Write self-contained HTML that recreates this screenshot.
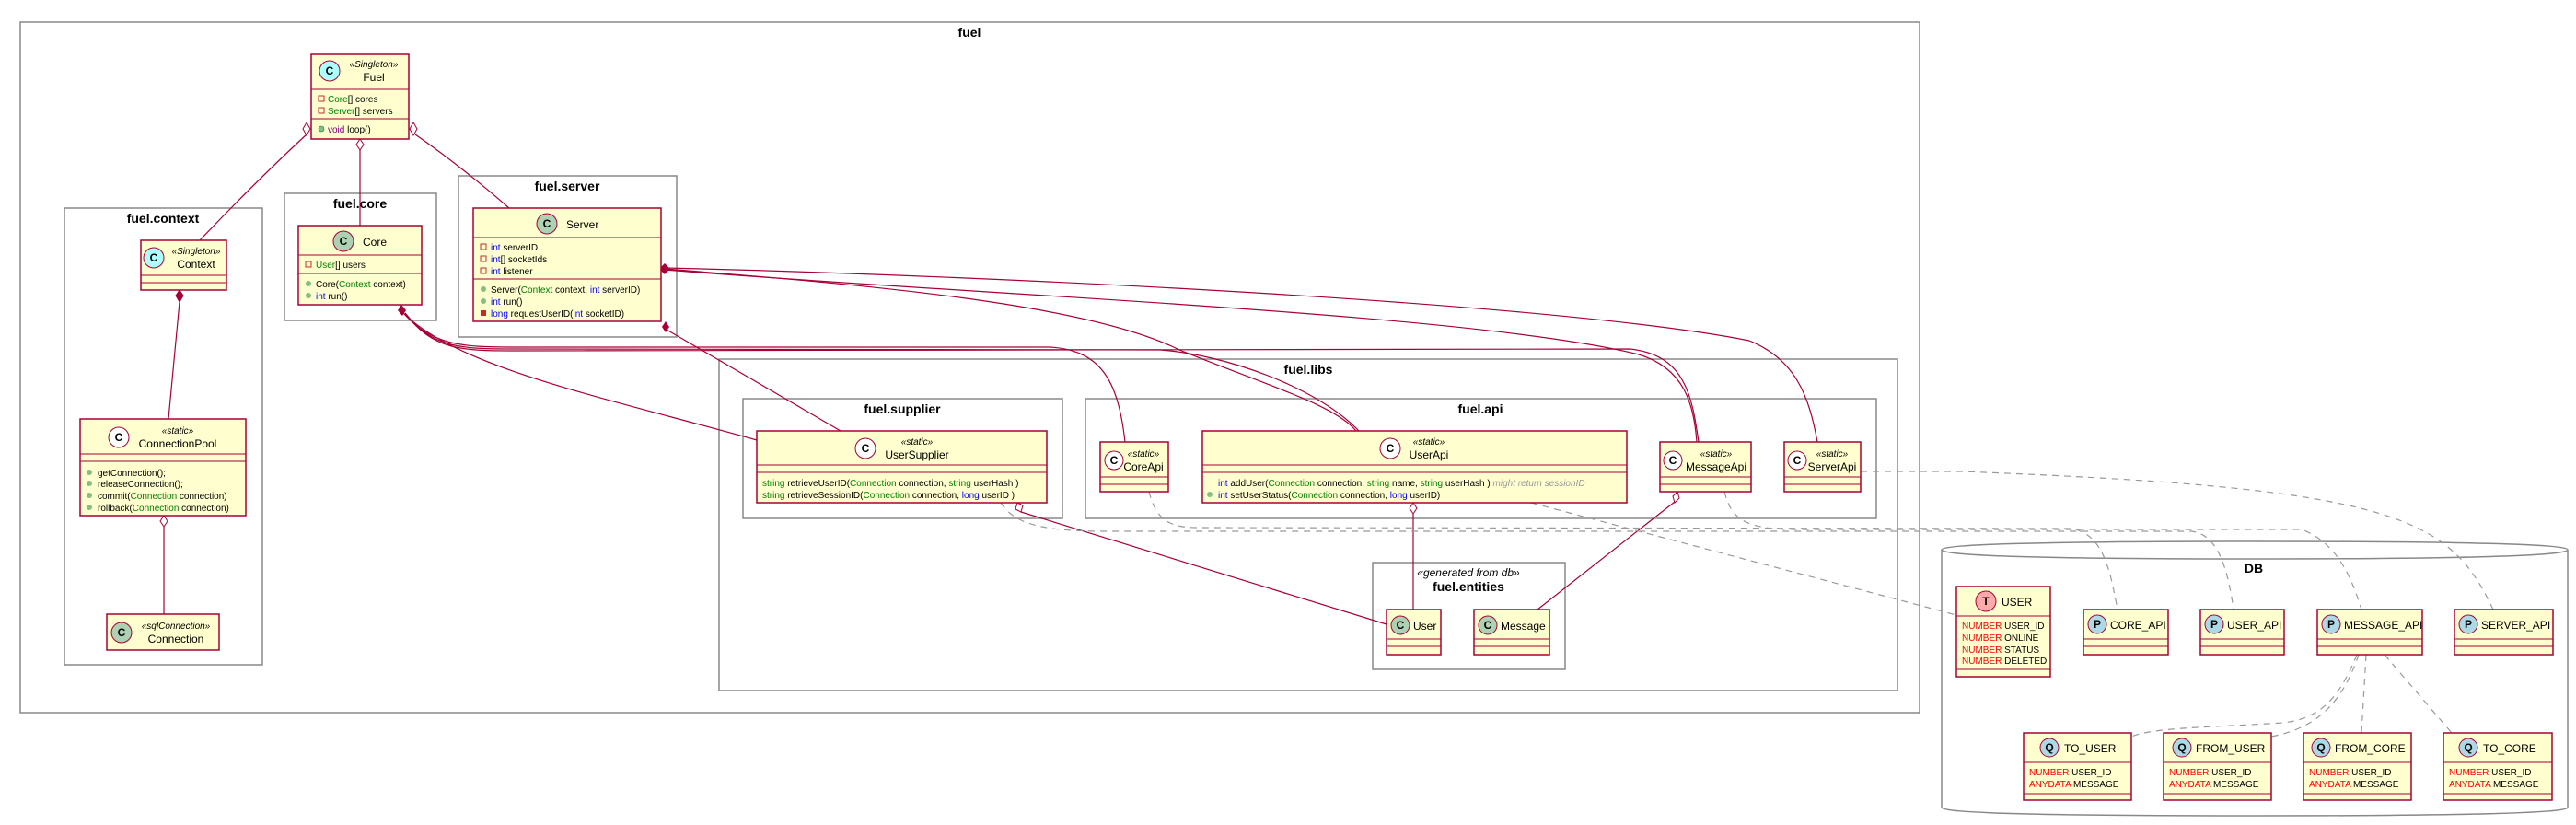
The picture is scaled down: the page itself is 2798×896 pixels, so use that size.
<!DOCTYPE html>
<html><head><meta charset="utf-8"><style>
html,body{margin:0;padding:0;background:#fff;}
svg{display:block;font-family:"Liberation Sans",sans-serif;}
.pk{fill:none;stroke:#888;stroke-width:1.5}
.bx{fill:#FEFECE;stroke:#A80036;stroke-width:1.5}
.ln{fill:none;stroke:#A80036;stroke-width:1.2}
.ds{fill:none;stroke:#999;stroke-width:1.2;stroke-dasharray:7,6}
.pt{font-weight:bold;font-size:14px;text-anchor:middle}
.nm{font-size:12px}
.st{font-size:10px;font-style:italic}
.m{font-size:10px}
.g{fill:#008000}.b{fill:#0000ff}.r{fill:#ff0000}.p{fill:#800080}
.ic{stroke:#A80036;stroke-width:1}
.il{font-size:12px;font-weight:bold;text-anchor:middle}
</style></head><body>
<svg width="2798" height="896" viewBox="0 0 2798 896" xmlns="http://www.w3.org/2000/svg">
<!-- packages -->
<rect class="pk" x="22" y="24" width="2063" height="750"/>
<text class="pt" x="1053" y="40">fuel</text>
<rect class="pk" x="70" y="226" width="215" height="496"/>
<text class="pt" x="177" y="242">fuel.context</text>
<rect class="pk" x="309" y="210" width="165" height="138"/>
<text class="pt" x="391" y="226">fuel.core</text>
<rect class="pk" x="498" y="191" width="237" height="175"/>
<text class="pt" x="616" y="207">fuel.server</text>
<rect class="pk" x="781" y="390" width="1280" height="360"/>
<text class="pt" x="1421" y="406">fuel.libs</text>
<rect class="pk" x="807" y="433" width="347" height="130"/>
<text class="pt" x="980" y="449">fuel.supplier</text>
<rect class="pk" x="1179" y="433" width="859" height="130"/>
<text class="pt" x="1608" y="449">fuel.api</text>
<rect class="pk" x="1491" y="611" width="209" height="116"/>
<text class="st" x="1595" y="626" text-anchor="middle" style="font-size:12px">«generated from db»</text>
<text class="pt" x="1595" y="642">fuel.entities</text>
<!-- DB cylinder -->
<path d="M2109 597 Q2109 588 2449 588 Q2789 588 2789 597 L2789 877 Q2789 886 2449 886 Q2109 886 2109 877 Z" fill="#fff" stroke="#888" stroke-width="1.5"/>
<path d="M2109 597 Q2109 607 2449 607 Q2789 607 2789 597" fill="none" stroke="#888" stroke-width="1.5"/>
<text class="pt" x="2448" y="622">DB</text>

<!-- connectors solid -->
<path class="ln" d="M333 146 Q280 195 217 261"/>
<polygon points="333,133 337,140 333,147 329,140" fill="#fff" stroke="#A80036"/>
<path class="ln" d="M391 163 L391 245"/>
<polygon points="391,151 395,157 391,163 387,157" fill="#fff" stroke="#A80036"/>
<path class="ln" d="M451 146 Q500 180 553 226"/>
<polygon points="449,133 453,140 449,147 445,140" fill="#fff" stroke="#A80036"/>
<path class="ln" d="M195 328 L183 455"/>
<polygon points="195,315 199,321 195,328 191,321" fill="#A80036" stroke="#A80036"/>
<path class="ln" d="M178 572 L178 667"/>
<polygon points="178,560 182,566 178,572 174,566" fill="#fff" stroke="#A80036"/>
<!-- Core links -->
<polygon points="436,331 441,337 437,343 432,337" fill="#A80036"/>
<path class="ln" d="M438 340 C500 400 650 430 822 478"/>
<path class="ln" d="M438 340 C470 375 500 377 560 377 L1140 377 C1200 380 1215 420 1222 480"/>
<path class="ln" d="M440 340 C470 378 500 379 560 379 L1260 380 C1330 385 1430 420 1476 468"/>
<path class="ln" d="M440 340 C470 380 500 381 560 381 L1770 379 C1830 385 1838 430 1845 480"/>
<!-- Server links -->
<polygon points="722,286 728,292 722,298 716,292" fill="#A80036"/>
<path class="ln" d="M722 292 C950 310 1180 330 1281 380 C1380 420 1450 440 1473 468"/>
<path class="ln" d="M722 293 C1050 320 1600 340 1780 385 C1830 400 1840 440 1843 480"/>
<path class="ln" d="M722 291 C1100 300 1700 330 1900 370 C1950 390 1965 430 1974 480"/>
<polygon points="723,349 727,355 723,361 719,355" fill="#A80036"/>
<path class="ln" d="M724 358 L913 468"/>
<!-- aggregations to entities -->
<path class="ln" d="M1109 556 L1506 678"/>
<polygon points="1105,546 1111,549 1109,556 1103,553" fill="#fff" stroke="#A80036"/>
<path class="ln" d="M1535 558 L1535 662"/>
<polygon points="1535,546 1539,552 1535,558 1531,552" fill="#fff" stroke="#A80036"/>
<path class="ln" d="M1819 545 L1670 662"/>
<polygon points="1822,534 1824,541 1819,546 1817,539" fill="#fff" stroke="#A80036"/>

<!-- dashed deps -->
<path class="ds" d="M1087 546 C1100 565 1120 577 1200 577 L2380 577 C2410 580 2420 620 2426 662"/>
<path class="ds" d="M1248 534 C1255 560 1265 573 1300 573 L2250 574 C2285 580 2292 620 2300 662"/>
<path class="ds" d="M1663 546 L2125 668"/>
<path class="ds" d="M1873 534 C1880 560 1890 575 1950 575 L2500 575 C2540 590 2555 630 2565 662"/>
<path class="ds" d="M2021 512 L2130 512 C2600 530 2660 560 2708 662"/>
<path class="ds" d="M2560 711 C2540 760 2520 780 2480 785 C2400 790 2340 790 2315 800"/>
<path class="ds" d="M2562 711 C2545 760 2520 790 2467 800"/>
<path class="ds" d="M2570 711 L2565 796"/>
<path class="ds" d="M2590 711 L2663 796"/>

<!-- Fuel -->
<rect class="bx" x="338" y="59" width="106" height="92"/>
<line class="ic" x1="338" y1="97" x2="444" y2="97" stroke-width="1.5"/><line class="ic" x1="338" y1="129" x2="444" y2="129" stroke-width="1.5"/>
<circle class="ic" cx="358" cy="77" r="11" fill="#ADFFFF"/><text class="il" x="358" y="81">C</text>
<text class="st" x="406" y="73" text-anchor="middle">«Singleton»</text>
<text class="nm" x="406" y="88" text-anchor="middle">Fuel</text>
<rect x="346" y="104" width="6" height="6" fill="none" stroke="#C82930"/><text class="m" x="356" y="111"><tspan class="g">Core</tspan>[] cores</text>
<rect x="346" y="117" width="6" height="6" fill="none" stroke="#C82930"/><text class="m" x="356" y="124"><tspan class="g">Server</tspan>[] servers</text>
<circle cx="349" cy="140" r="3" fill="#84BE84" stroke="#038048" stroke-width=".6"/><text class="m" x="356" y="144"><tspan class="p">void</tspan> loop()</text>

<!-- Context -->
<rect class="bx" x="153" y="261" width="93" height="54"/>
<line class="ic" x1="153" y1="299" x2="246" y2="299" stroke-width="1.5"/><line class="ic" x1="153" y1="307" x2="246" y2="307" stroke-width="1.5"/>
<circle class="ic" cx="167" cy="280" r="11" fill="#ADFFFF"/><text class="il" x="167" y="284">C</text>
<text class="st" x="213" y="276" text-anchor="middle">«Singleton»</text>
<text class="nm" x="213" y="291" text-anchor="middle">Context</text>

<!-- ConnectionPool -->
<rect class="bx" x="87" y="455" width="180" height="105"/>
<line class="ic" x1="87" y1="493" x2="267" y2="493" stroke-width="1.5"/><line class="ic" x1="87" y1="501" x2="267" y2="501" stroke-width="1.5"/>
<circle class="ic" cx="129" cy="475" r="11" fill="#fff"/><text class="il" x="129" y="479">C</text>
<text class="st" x="193" y="471" text-anchor="middle">«static»</text>
<text class="nm" x="193" y="486" text-anchor="middle">ConnectionPool</text>
<g class="m">
<circle cx="97" cy="513" r="3" fill="#84BE84"/><text x="106" y="517">getConnection();</text>
<circle cx="97" cy="525" r="3" fill="#84BE84"/><text x="106" y="529">releaseConnection();</text>
<circle cx="97" cy="538" r="3" fill="#84BE84"/><text x="106" y="542">commit(<tspan class="g">Connection</tspan> connection)</text>
<circle cx="97" cy="551" r="3" fill="#84BE84"/><text x="106" y="555">rollback(<tspan class="g">Connection</tspan> connection)</text>
</g>

<!-- Connection -->
<rect class="bx" x="116" y="667" width="122" height="39"/>
<circle class="ic" cx="132" cy="687" r="11" fill="#ADD1B2"/><text class="il" x="132" y="691">C</text>
<text class="st" x="191" y="683" text-anchor="middle">«sqlConnection»</text>
<text class="nm" x="191" y="698" text-anchor="middle">Connection</text>

<!-- Core -->
<rect class="bx" x="324" y="245" width="134" height="86"/>
<line class="ic" x1="324" y1="277" x2="458" y2="277" stroke-width="1.5"/><line class="ic" x1="324" y1="297" x2="458" y2="297" stroke-width="1.5"/>
<circle class="ic" cx="373" cy="262" r="11" fill="#ADD1B2"/><text class="il" x="373" y="266">C</text>
<text class="nm" x="394" y="267">Core</text>
<rect x="332" y="284" width="6" height="6" fill="none" stroke="#C82930"/><text class="m" x="343" y="291"><tspan class="g">User</tspan>[] users</text>
<circle cx="335" cy="308" r="3" fill="#84BE84"/><text class="m" x="343" y="312">Core(<tspan class="g">Context</tspan> context)</text>
<circle cx="335" cy="321" r="3" fill="#84BE84"/><text class="m" x="343" y="325"><tspan class="b">int</tspan> run()</text>

<!-- Server -->
<rect class="bx" x="514" y="226" width="204" height="123"/>
<line class="ic" x1="514" y1="258" x2="718" y2="258" stroke-width="1.5"/><line class="ic" x1="514" y1="303" x2="718" y2="303" stroke-width="1.5"/>
<circle class="ic" cx="594" cy="243" r="11" fill="#ADD1B2"/><text class="il" x="594" y="247">C</text>
<text class="nm" x="615" y="248">Server</text>
<g class="m">
<rect x="522" y="265" width="6" height="6" fill="none" stroke="#C82930"/><text x="533" y="272"><tspan class="b">int</tspan> serverID</text>
<rect x="522" y="278" width="6" height="6" fill="none" stroke="#C82930"/><text x="533" y="285"><tspan class="b">int</tspan>[] socketIds</text>
<rect x="522" y="291" width="6" height="6" fill="none" stroke="#C82930"/><text x="533" y="298"><tspan class="b">int</tspan> listener</text>
<circle cx="525" cy="314" r="3" fill="#84BE84"/><text x="533" y="318">Server(<tspan class="g">Context</tspan> context, <tspan class="b">int</tspan> serverID)</text>
<circle cx="525" cy="327" r="3" fill="#84BE84"/><text x="533" y="331"><tspan class="b">int</tspan> run()</text>
<rect x="522" y="337" width="6" height="6" fill="#C82930"/><text x="533" y="344"><tspan class="b">long</tspan> requestUserID(<tspan class="b">int</tspan> socketID)</text>
</g>

<!-- UserSupplier -->
<rect class="bx" x="822" y="468" width="315" height="78"/>
<line class="ic" x1="822" y1="505" x2="1137" y2="505" stroke-width="1.5"/><line class="ic" x1="822" y1="513" x2="1137" y2="513" stroke-width="1.5"/>
<circle class="ic" cx="940" cy="487" r="11" fill="#fff"/><text class="il" x="940" y="491">C</text>
<text class="st" x="996" y="483" text-anchor="middle">«static»</text>
<text class="nm" x="996" y="498" text-anchor="middle">UserSupplier</text>
<text class="m" x="828" y="528"><tspan class="g">string</tspan> retrieveUserID(<tspan class="g">Connection</tspan> connection, <tspan class="g">string</tspan> userHash )</text>
<text class="m" x="828" y="541"><tspan class="g">string</tspan> retrieveSessionID(<tspan class="g">Connection</tspan> connection, <tspan class="b">long</tspan> userID )</text>

<!-- CoreApi -->
<rect class="bx" x="1195" y="480" width="74" height="54"/>
<line class="ic" x1="1195" y1="518" x2="1269" y2="518" stroke-width="1.5"/><line class="ic" x1="1195" y1="526" x2="1269" y2="526" stroke-width="1.5"/>
<circle class="ic" cx="1210" cy="500" r="10" fill="#fff"/><text class="il" x="1210" y="504">C</text>
<text class="st" x="1242" y="496" text-anchor="middle">«static»</text>
<text class="nm" x="1242" y="511" text-anchor="middle">CoreApi</text>

<!-- UserApi -->
<rect class="bx" x="1306" y="468" width="461" height="78"/>
<line class="ic" x1="1306" y1="505" x2="1767" y2="505" stroke-width="1.5"/><line class="ic" x1="1306" y1="513" x2="1767" y2="513" stroke-width="1.5"/>
<circle class="ic" cx="1510" cy="487" r="11" fill="#fff"/><text class="il" x="1510" y="491">C</text>
<text class="st" x="1552" y="483" text-anchor="middle">«static»</text>
<text class="nm" x="1552" y="498" text-anchor="middle">UserApi</text>
<text class="m" x="1323" y="528"><tspan class="b">int</tspan> addUser(<tspan class="g">Connection</tspan> connection, <tspan class="g">string</tspan> name, <tspan class="g">string</tspan> userHash ) <tspan style="fill:#999;font-style:italic">might return sessionID</tspan></text>
<circle cx="1314" cy="537" r="3" fill="#84BE84"/><text class="m" x="1323" y="541"><tspan class="b">int</tspan> setUserStatus(<tspan class="g">Connection</tspan> connection, <tspan class="b">long</tspan> userID)</text>

<!-- MessageApi -->
<rect class="bx" x="1803" y="480" width="99" height="54"/>
<line class="ic" x1="1803" y1="518" x2="1902" y2="518" stroke-width="1.5"/><line class="ic" x1="1803" y1="526" x2="1902" y2="526" stroke-width="1.5"/>
<circle class="ic" cx="1817" cy="500" r="10" fill="#fff"/><text class="il" x="1817" y="504">C</text>
<text class="st" x="1864" y="496" text-anchor="middle">«static»</text>
<text class="nm" x="1864" y="511" text-anchor="middle">MessageApi</text>

<!-- ServerApi -->
<rect class="bx" x="1938" y="480" width="83" height="54"/>
<line class="ic" x1="1938" y1="518" x2="2021" y2="518" stroke-width="1.5"/><line class="ic" x1="1938" y1="526" x2="2021" y2="526" stroke-width="1.5"/>
<circle class="ic" cx="1952" cy="500" r="10" fill="#fff"/><text class="il" x="1952" y="504">C</text>
<text class="st" x="1990" y="496" text-anchor="middle">«static»</text>
<text class="nm" x="1990" y="511" text-anchor="middle">ServerApi</text>

<!-- User / Message -->
<rect class="bx" x="1506" y="662" width="59" height="49"/>
<line class="ic" x1="1506" y1="694" x2="1565" y2="694" stroke-width="1.5"/><line class="ic" x1="1506" y1="702" x2="1565" y2="702" stroke-width="1.5"/>
<circle class="ic" cx="1521" cy="679" r="10" fill="#ADD1B2"/><text class="il" x="1521" y="683">C</text>
<text class="nm" x="1535" y="684">User</text>
<rect class="bx" x="1601" y="662" width="82" height="49"/>
<line class="ic" x1="1601" y1="694" x2="1683" y2="694" stroke-width="1.5"/><line class="ic" x1="1601" y1="702" x2="1683" y2="702" stroke-width="1.5"/>
<circle class="ic" cx="1616" cy="679" r="10" fill="#ADD1B2"/><text class="il" x="1616" y="683">C</text>
<text class="nm" x="1630" y="684">Message</text>

<!-- DB: USER table -->
<rect class="bx" x="2125" y="637" width="102" height="98"/>
<line class="ic" x1="2125" y1="669" x2="2227" y2="669" stroke-width="1.5"/><line class="ic" x1="2125" y1="727" x2="2227" y2="727" stroke-width="1.5"/>
<circle class="ic" cx="2157" cy="653" r="11" fill="#FFAAAA"/><text class="il" x="2157" y="657">T</text>
<text class="nm" x="2174" y="658">USER</text>
<g class="m"><text x="2131" y="683"><tspan class="r">NUMBER</tspan> USER_ID</text>
<text x="2131" y="696"><tspan class="r">NUMBER</tspan> ONLINE</text>
<text x="2131" y="709"><tspan class="r">NUMBER</tspan> STATUS</text>
<text x="2131" y="721"><tspan class="r">NUMBER</tspan> DELETED</text></g>

<!-- P boxes -->
<g>
<rect class="bx" x="2263" y="662" width="92" height="49"/><line class="ic" x1="2263" y1="694" x2="2355" y2="694" stroke-width="1.5"/><line class="ic" x1="2263" y1="702" x2="2355" y2="702" stroke-width="1.5"/>
<circle class="ic" cx="2278" cy="678" r="10" fill="#ADD8E6"/><text class="il" x="2278" y="682">P</text><text class="nm" x="2292" y="683">CORE_API</text>
<rect class="bx" x="2390" y="662" width="91" height="49"/><line class="ic" x1="2390" y1="694" x2="2481" y2="694" stroke-width="1.5"/><line class="ic" x1="2390" y1="702" x2="2481" y2="702" stroke-width="1.5"/>
<circle class="ic" cx="2405" cy="678" r="10" fill="#ADD8E6"/><text class="il" x="2405" y="682">P</text><text class="nm" x="2419" y="683">USER_API</text>
<rect class="bx" x="2517" y="662" width="114" height="49"/><line class="ic" x1="2517" y1="694" x2="2631" y2="694" stroke-width="1.5"/><line class="ic" x1="2517" y1="702" x2="2631" y2="702" stroke-width="1.5"/>
<circle class="ic" cx="2532" cy="678" r="10" fill="#ADD8E6"/><text class="il" x="2532" y="682">P</text><text class="nm" x="2546" y="683">MESSAGE_API</text>
<rect class="bx" x="2666" y="662" width="107" height="49"/><line class="ic" x1="2666" y1="694" x2="2773" y2="694" stroke-width="1.5"/><line class="ic" x1="2666" y1="702" x2="2773" y2="702" stroke-width="1.5"/>
<circle class="ic" cx="2681" cy="678" r="10" fill="#ADD8E6"/><text class="il" x="2681" y="682">P</text><text class="nm" x="2695" y="683">SERVER_API</text>
</g>

<!-- Q boxes -->
<g>
<rect class="bx" x="2198" y="796" width="117" height="73"/><line class="ic" x1="2198" y1="828" x2="2315" y2="828" stroke-width="1.5"/><line class="ic" x1="2198" y1="862" x2="2315" y2="862" stroke-width="1.5"/>
<circle class="ic" cx="2226" cy="812" r="10" fill="#ADD8E6"/><text class="il" x="2226" y="816">Q</text><text class="nm" x="2242" y="817">TO_USER</text>
<text class="m" x="2204" y="842"><tspan class="r">NUMBER</tspan> USER_ID</text><text class="m" x="2204" y="855"><tspan class="r">ANYDATA</tspan> MESSAGE</text>

<rect class="bx" x="2350" y="796" width="117" height="73"/><line class="ic" x1="2350" y1="828" x2="2467" y2="828" stroke-width="1.5"/><line class="ic" x1="2350" y1="862" x2="2467" y2="862" stroke-width="1.5"/>
<circle class="ic" cx="2370" cy="812" r="10" fill="#ADD8E6"/><text class="il" x="2370" y="816">Q</text><text class="nm" x="2385" y="817">FROM_USER</text>
<text class="m" x="2356" y="842"><tspan class="r">NUMBER</tspan> USER_ID</text><text class="m" x="2356" y="855"><tspan class="r">ANYDATA</tspan> MESSAGE</text>

<rect class="bx" x="2502" y="796" width="117" height="73"/><line class="ic" x1="2502" y1="828" x2="2619" y2="828" stroke-width="1.5"/><line class="ic" x1="2502" y1="862" x2="2619" y2="862" stroke-width="1.5"/>
<circle class="ic" cx="2521" cy="812" r="10" fill="#ADD8E6"/><text class="il" x="2521" y="816">Q</text><text class="nm" x="2536" y="817">FROM_CORE</text>
<text class="m" x="2508" y="842"><tspan class="r">NUMBER</tspan> USER_ID</text><text class="m" x="2508" y="855"><tspan class="r">ANYDATA</tspan> MESSAGE</text>

<rect class="bx" x="2654" y="796" width="118" height="73"/><line class="ic" x1="2654" y1="828" x2="2772" y2="828" stroke-width="1.5"/><line class="ic" x1="2654" y1="862" x2="2772" y2="862" stroke-width="1.5"/>
<circle class="ic" cx="2681" cy="812" r="10" fill="#ADD8E6"/><text class="il" x="2681" y="816">Q</text><text class="nm" x="2697" y="817">TO_CORE</text>
<text class="m" x="2660" y="842"><tspan class="r">NUMBER</tspan> USER_ID</text><text class="m" x="2660" y="855"><tspan class="r">ANYDATA</tspan> MESSAGE</text>
</g>
</svg>
</body></html>
